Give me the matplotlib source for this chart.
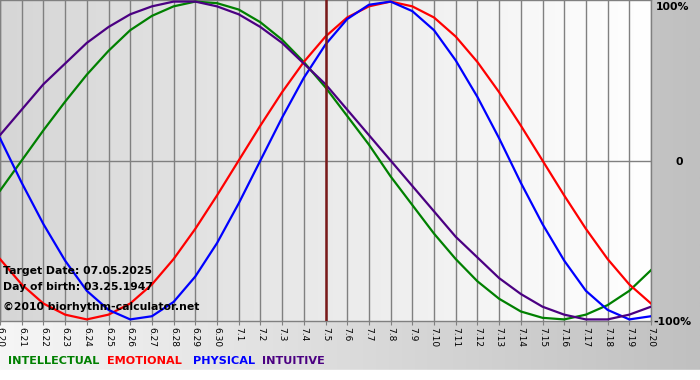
import numpy as np
import matplotlib.pyplot as plt
from matplotlib.colors import LinearSegmentedColormap

# dates 6.20 .. 7.20
dates = ['6.20', '6.21', '6.22', '6.23', '6.24', '6.25', '6.26', '6.27', '6.28', '6.29', '6.30',
         '7.1', '7.2', '7.3', '7.4', '7.5', '7.6', '7.7', '7.8', '7.9', '7.10',
         '7.11', '7.12', '7.13', '7.14', '7.15', '7.16', '7.17', '7.18', '7.19', '7.20']

physical = [0.14, -0.14, -0.40, -0.63, -0.82, -0.94, -1.00, -0.98, -0.89, -0.73, -0.52,
            -0.27, 0.00, 0.27, 0.52, 0.73, 0.89, 0.98, 1.00, 0.94, 0.82,
            0.63, 0.40, 0.14, -0.14, -0.40, -0.63, -0.82, -0.94, -1.00, -0.98]
emotional = [-0.62, -0.78, -0.90, -0.97, -1.00, -0.97, -0.90, -0.78, -0.62, -0.43, -0.22,
             0.00, 0.22, 0.43, 0.62, 0.78, 0.90, 0.97, 1.00, 0.97, 0.90,
             0.78, 0.62, 0.43, 0.22, 0.00, -0.22, -0.43, -0.62, -0.78, -0.90]
intellectual = [-0.19, 0.00, 0.19, 0.37, 0.54, 0.69, 0.82, 0.91, 0.97, 1.00, 0.99,
                0.95, 0.87, 0.76, 0.62, 0.46, 0.28, 0.10, -0.10, -0.28, -0.46,
                -0.62, -0.76, -0.87, -0.95, -0.99, -1.00, -0.97, -0.91, -0.82, -0.69]
intuitive = [0.16, 0.32, 0.48, 0.61, 0.74, 0.84, 0.92, 0.97, 1.00, 1.00, 0.97,
             0.92, 0.84, 0.74, 0.61, 0.48, 0.32, 0.16, 0.00, -0.16, -0.32,
             -0.48, -0.61, -0.74, -0.84, -0.92, -0.97, -1.00, -1.00, -0.97, -0.92]
target_idx = 15

W, H = 700, 380
fig = plt.figure(figsize=(7, 3.8), dpi=100)

# figure background gradient
bg = fig.add_axes([0, 0, 1, 1], zorder=-10)
bg_cmap = LinearSegmentedColormap.from_list('bg', ['#f6f6f6', '#c0c0c0'])
bg.imshow(np.linspace(0, 1, 256).reshape(1, -1), cmap=bg_cmap, aspect='auto', extent=[0, 1, 0, 1])
bg.axhspan(0, 10 / H, color='white')
bg.set_xlim(0, 1)
bg.set_ylim(0, 1)
bg.axis('off')

ax = fig.add_axes([0, 1 - 321 / H, 651 / W, 321 / H])
x = np.arange(len(dates))
ax.set_xlim(0, len(dates) - 1)
ax.set_ylim(-1.01, 1.01)

plot_cmap = LinearSegmentedColormap.from_list('pl', ['#d6d6d6', '#ffffff'])
ax.imshow(np.linspace(0, 1, 256).reshape(1, -1), cmap=plot_cmap, aspect='auto',
          extent=[0, len(dates) - 1, -1.01, 1.01], zorder=0)

for i in x:
    ax.axvline(i, color='#808080', lw=1, zorder=1)
ax.axhline(0, color='#808080', lw=1, zorder=1)

ax.plot(x, intellectual, color='#008000', lw=1.6, zorder=3)
ax.plot(x, emotional, color='#ff0000', lw=1.6, zorder=3)
ax.plot(x, physical, color='#0000ff', lw=1.6, zorder=3)
ax.plot(x, intuitive, color='#4b0082', lw=1.6, zorder=3)
ax.axvline(target_idx, color='#7a1a1a', lw=1.8, zorder=4)

ax.set_xticks(x)
ax.set_xticklabels(dates, rotation=-90, fontsize=6.5)
ax.tick_params(axis='x', length=3, color='#808080', pad=1)
ax.set_yticks([])
for s in ax.spines.values():
    s.set_color('#808080')
    s.set_linewidth(1)

txt = dict(fontsize=7.8, fontweight='bold', color='black', transform=ax.transAxes, zorder=5)
ax.text(3 / 651, 1 - 271 / 321, 'Target Date: 07.05.2025', va='center', **txt)
ax.text(3 / 651, 1 - 287 / 321, 'Day of birth: 03.25.1947', va='center', **txt)
ax.text(3 / 651, 1 - 307 / 321, '\u00a92010 biorhythm-calculator.net', va='center', **txt)

yl = dict(fontsize=7.8, fontweight='bold', color='black')
fig.text(656 / W, 1 - 7 / H, '100%', va='center', **yl)
fig.text(676 / W, 1 - 162 / H, '0', va='center', **yl)
fig.text(653 / W, 1 - 322 / H, '-100%', va='center', **yl)

leg = dict(fontsize=8.1, fontweight='bold', va='center')
fig.text(8 / W, 1 - 361 / H, 'INTELLECTUAL', color='#008000', **leg)
fig.text(107 / W, 1 - 361 / H, 'EMOTIONAL', color='#ff0000', **leg)
fig.text(193 / W, 1 - 361 / H, 'PHYSICAL', color='#0000ff', **leg)
fig.text(262 / W, 1 - 361 / H, 'INTUITIVE', color='#4b0082', **leg)

fig.savefig('out.png', dpi=100)
